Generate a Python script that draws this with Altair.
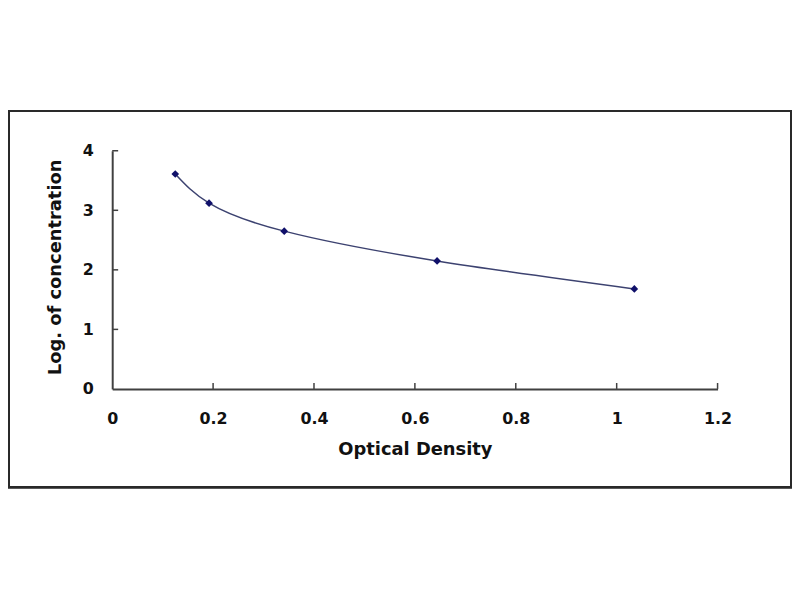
import altair as alt
import pandas as pd

# Data
optical_density = [0.125, 0.192, 0.341, 0.644, 1.035]
log_concentration = [3.61, 3.12, 2.65, 2.15, 1.68]

x_tick_values = [0, 0.2, 0.4, 0.6, 0.8, 1.0, 1.2]
y_tick_values = [0, 1, 2, 3, 4]

df = pd.DataFrame({"od": optical_density, "logc": log_concentration})
xt = pd.DataFrame({"xt": [v for v in x_tick_values if v > 0]})
yt = pd.DataFrame({"yt": [v for v in y_tick_values if v > 0]})

W, H = 610, 240
FONT = "DejaVu Sans"

x_scale = alt.Scale(domain=[0, 1.2], nice=False, zero=False)
y_scale = alt.Scale(domain=[0, 4], nice=False, zero=False)

x_enc = alt.X(
    "od:Q",
    scale=x_scale,
    axis=alt.Axis(
        title="Optical Density",
        values=x_tick_values,
        format="~g",
        ticks=False,
        grid=False,
        labelFlush=False,
        labelPadding=22,
        titleX=W / 2,
        titleY=61,
        titleBaseline="middle",
    ),
)
y_enc = alt.Y(
    "logc:Q",
    scale=y_scale,
    axis=alt.Axis(
        title="Log. of concentration",
        values=y_tick_values,
        format="~g",
        ticks=False,
        grid=False,
        labelFlush=False,
        labelPadding=19,
        titleX=-57,
        titleY=H / 2 - 3,
        titleBaseline="middle",
        titleAngle=270,
    ),
)

line = alt.Chart(df).mark_line(
    interpolate="natural", color="#3c4270", strokeWidth=1.5
).encode(x=x_enc, y=y_enc)

points = alt.Chart(df).mark_point(
    shape="diamond", filled=True, color="#10106a", size=60, opacity=1
).encode(x=alt.X("od:Q", scale=x_scale), y=alt.Y("logc:Q", scale=y_scale))

x_ticks = alt.Chart(xt).mark_rule(color="#404040", strokeWidth=1.5).encode(
    x=alt.X("xt:Q", scale=x_scale),
    y=alt.value(H),
    y2=alt.value(H - 6),
)
y_ticks = alt.Chart(yt).mark_rule(color="#404040", strokeWidth=1.5).encode(
    y=alt.Y("yt:Q", scale=y_scale),
    x=alt.value(0),
    x2=alt.value(6),
)

frame = alt.Chart(df).mark_rect(
    filled=False, stroke="#2a2a2a", strokeWidth=2
).encode(
    x=alt.value(-104), x2=alt.value(684), y=alt.value(-40), y2=alt.value(339)
)

chart = (
    alt.layer(frame, line, x_ticks, y_ticks, points)
    .properties(
        width=W,
        height=H,
        autosize=alt.AutoSizeParams(type="none"),
        padding={"left": 105, "top": 142, "right": 75, "bottom": 100},
        background="white",
    )
    .configure_view(stroke=None)
    .configure_axis(
        domainColor="#404040",
        domainWidth=2,
        labelFont=FONT,
        labelFontWeight="bold",
        labelFontSize=16,
        labelColor="#111111",
        titleFont=FONT,
        titleFontWeight="bold",
        titleFontSize=18,
        titleColor="#111111",
    )
)

chart.save("out.html", embed_options={"renderer": "svg", "actions": False})
